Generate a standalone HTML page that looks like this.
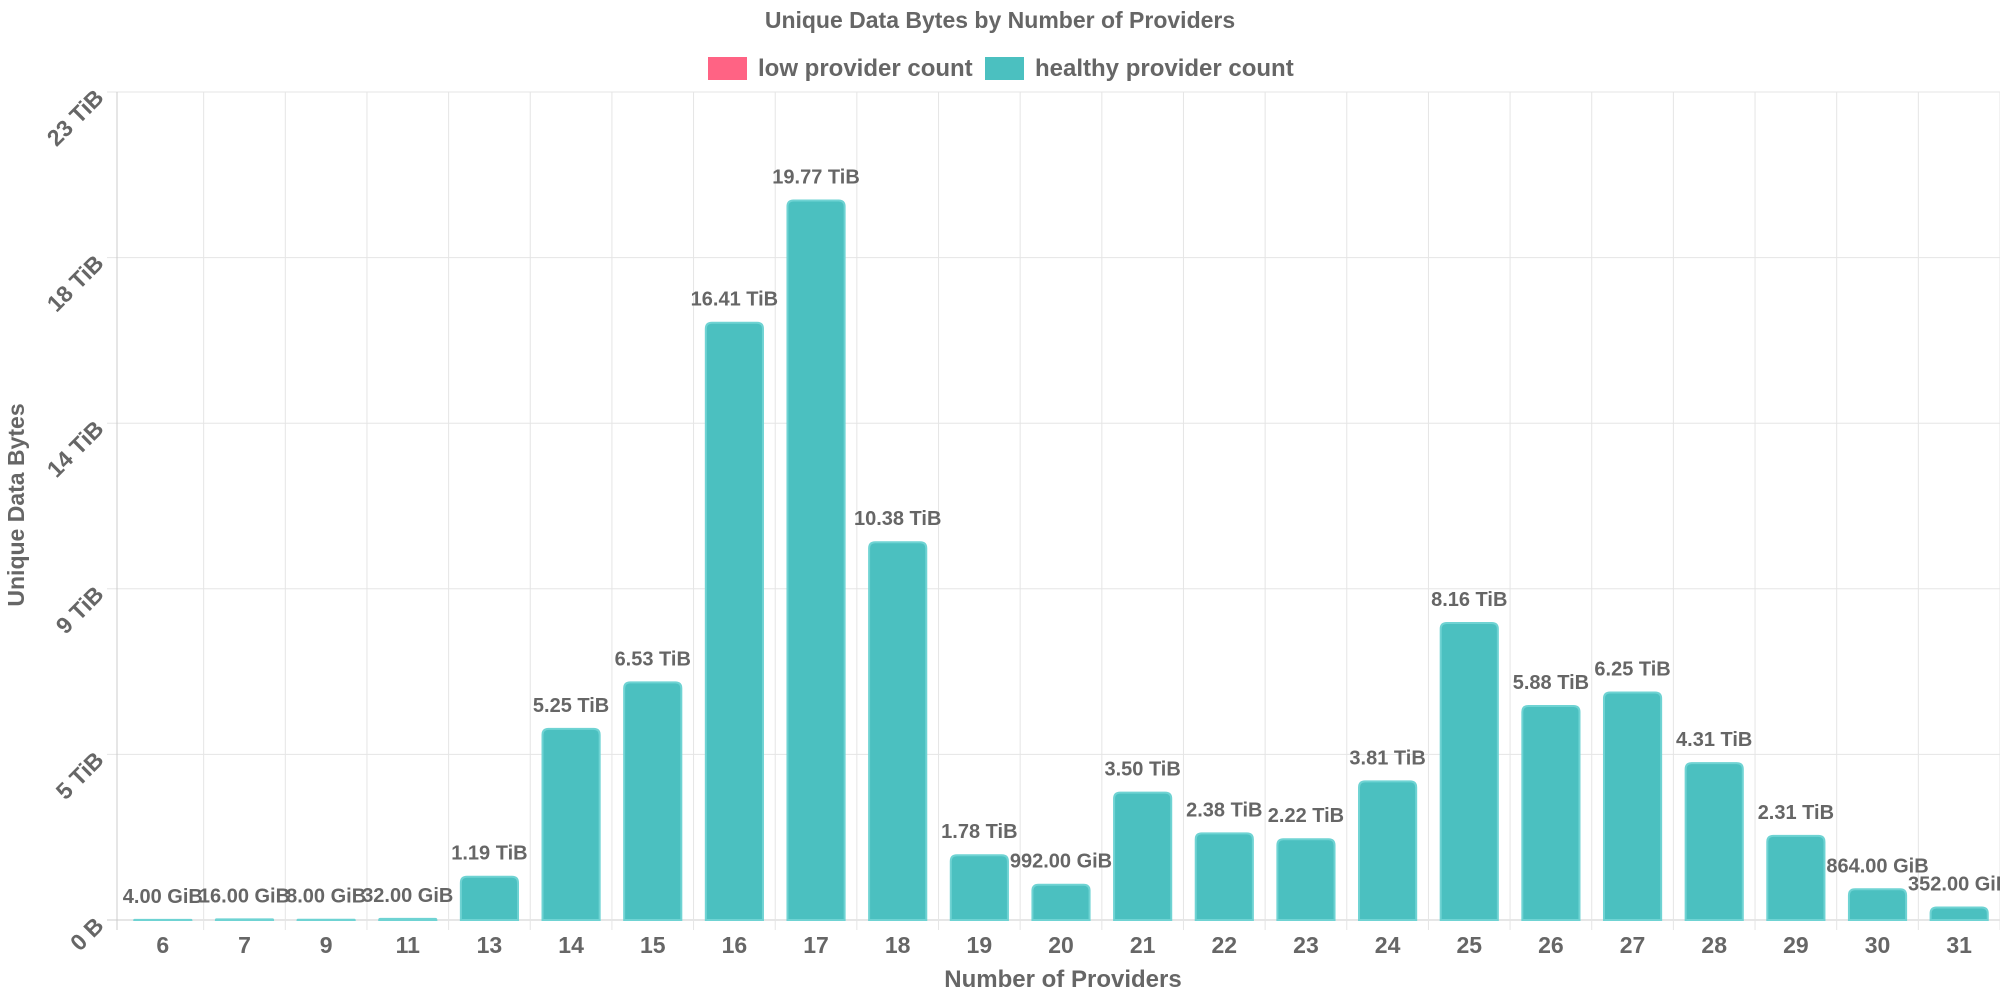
<!DOCTYPE html>
<html><head><meta charset="utf-8"><style>
html,body{margin:0;padding:0;background:#fff}
svg{display:block;font-family:"Liberation Sans",Arial,sans-serif}
</style></head><body>
<svg id="chart" width="2000" height="1000" viewBox="0 0 2000 1000" xmlns="http://www.w3.org/2000/svg">
<text x="1000" y="28" text-anchor="middle" font-size="23" font-weight="bold" fill="#666">Unique Data Bytes by Number of Providers</text>
<g>
<g><rect x="708" y="57" width="39" height="23" fill="#ff6384"/><text x="758" y="76" font-size="24" font-weight="bold" fill="#666">low provider count</text></g>
<g><rect x="985" y="57" width="39" height="23" fill="#4bc0c0"/><text x="1035" y="76" font-size="24" font-weight="bold" fill="#666">healthy provider count</text></g>
</g>
<text transform="translate(24,505) rotate(-90)" text-anchor="middle" font-size="23" font-weight="bold" fill="#666">Unique Data Bytes</text>
<text x="1063" y="987" text-anchor="middle" font-size="24" font-weight="bold" fill="#666">Number of Providers</text>
<g id="grid"></g>
<g id="bars"></g>
<g id="labels"></g>
<g id="xt"></g>
<g id="yt"></g>
</svg>
<script>
const categories=["6","7","9","11","13","14","15","16","17","18","19","20","21","22","23","24","25","26","27","28","29","30","31"];
const valuesTiB=[4/1024,16/1024,8/1024,32/1024,1.19,5.25,6.53,16.41,19.77,10.38,1.78,992/1024,3.50,2.38,2.22,3.81,8.16,5.88,6.25,4.31,2.31,864/1024,352/1024];
const valueLabels=["4.00 GiB","16.00 GiB","8.00 GiB","32.00 GiB","1.19 TiB","5.25 TiB","6.53 TiB","16.41 TiB","19.77 TiB","10.38 TiB","1.78 TiB","992.00 GiB","3.50 TiB","2.38 TiB","2.22 TiB","3.81 TiB","8.16 TiB","5.88 TiB","6.25 TiB","4.31 TiB","2.31 TiB","864.00 GiB","352.00 GiB"];
const yTicks=[0,4.55,9.1,13.65,18.2,22.75];
const yTickLabels=["0 B","5 TiB","9 TiB","14 TiB","18 TiB","23 TiB"];
const yMax=22.75;
const AX=117,L=122,R=2000,T=92,B=920;
const NS="http://www.w3.org/2000/svg";
const band=(R-L)/categories.length;
const x=i=>L+band*i;
const y=v=>B-(v/yMax)*(B-T);
function mk(tag,attrs,parent,txt){const e=document.createElementNS(NS,tag);for(const k in attrs)e.setAttribute(k,attrs[k]);if(txt!==undefined)e.textContent=txt;parent.appendChild(e);return e;}
const grid=document.getElementById('grid'),bars=document.getElementById('bars'),labels=document.getElementById('labels'),xt=document.getElementById('xt'),yt=document.getElementById('yt');
yTicks.forEach((t,i)=>{
  const gy=y(t);
  const ln=mk('line',{x1:AX-10,x2:R,y1:gy,y2:gy,stroke:i===0?'#ccc':'#e5e5e5','stroke-width':1},grid);
  
  
  const tx=mk('text',{transform:`translate(${AX-12},${gy+7}) rotate(-45)`,'text-anchor':'end','font-size':23,'font-weight':'bold',fill:'#666'},yt,yTickLabels[i]);
  
  
});
const axl=mk('line',{x1:AX,x2:AX,y1:T,y2:B+10,stroke:'#ccc','stroke-width':1},grid);


for(let i=1;i<=categories.length;i++){
  const gx=x(i);
  const ln=mk('line',{x1:gx,x2:gx,y1:T,y2:B+10,stroke:'#e5e5e5','stroke-width':1},grid);
  
  
}
const bw=band*0.7;
categories.forEach((c,i)=>{
  const cx=x(i)+band/2, top=y(valuesTiB[i]), h=B-top, r=Math.min(6,h);
  const x0=cx-bw/2,x1=cx+bw/2;
  const d=`M${x0},${B} L${x0},${top+r} Q${x0},${top} ${x0+r},${top} L${x1-r},${top} Q${x1},${top} ${x1},${top+r} L${x1},${B} Z`;
  const p=mk('path',{d:d,fill:'#4bc0c0',stroke:'#6fd3d3','stroke-width':2},bars);
  
  
  const lb=mk('text',{x:cx,y:top-17,'text-anchor':'middle','font-size':20,'font-weight':'bold',fill:'#666'},labels,valueLabels[i]);
  
  
  const tl=mk('text',{x:cx,y:953,'text-anchor':'middle','font-size':23,'font-weight':'bold',fill:'#666'},xt,c);
  
  
});
</script>
</body></html>
